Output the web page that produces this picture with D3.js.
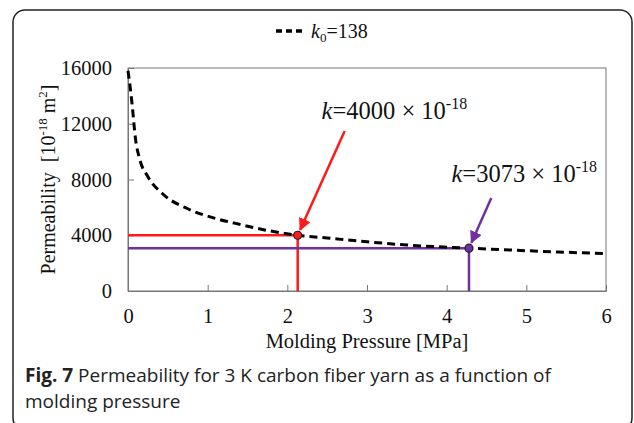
<!DOCTYPE html>
<html>
<head>
<meta charset="utf-8">
<script src="https://cdn.jsdelivr.net/npm/d3@7"></script>
<style>
  body { margin: 0; background: #fff; }
  svg { display: block; }
  .serif { font-family: "Liberation Serif", "Times New Roman", serif; fill: #111; }
  .caption { font-family: "Open Sans", "Noto Sans", sans-serif; fill: #222; font-size: 19px; }
</style>
</head>
<body>
<svg id="chart"></svg>
<script>
// values
const pressure = [0, 0.03, 0.055, 0.09, 0.15, 0.25, 0.45, 0.75, 1.1, 1.35, 1.7, 2.13, 2.5, 3.0, 3.5, 4.28, 4.8, 5.4, 6.0];
const permeability = [15800, 14500, 13200, 11100, 9400, 8200, 6900, 5900, 5200, 4850, 4400, 4000, 3800, 3530, 3300, 3073, 2940, 2800, 2680];
const xTicks = [0, 1, 2, 3, 4, 5, 6];
const yTicks = [0, 4000, 8000, 12000, 16000];
const markers = [
  { p: 2.13, k: 4000, color: '#ff1a1a', label: '4000', tail: [2.72, 11480], text: [2.43, 12350] },
  { p: 4.28, k: 3073, color: '#7030a0', label: '3073', tail: [4.56, 6670], text: [4.06, 7800] }
];

const width = 634, height = 423;
const margin = { top: 68, right: 28, bottom: 132, left: 128 };
const chartWidth = width - margin.left - margin.right;
const chartHeight = height - margin.top - margin.bottom;

const svg = d3.select('#chart').attr('width', width).attr('height', height);

// outer frame
svg.append('rect')
  .attr('x', 13).attr('y', 10)
  .attr('width', 619).attr('height', 420)
  .attr('rx', 12)
  .attr('fill', 'none')
  .attr('stroke', '#222')
  .attr('stroke-width', 1.5);

const g = svg.append('g').attr('transform', `translate(${margin.left},${margin.top})`);

const x = d3.scaleLinear().domain([0, 6]).range([0, chartWidth]);
const y = d3.scaleLinear().domain([0, 16000]).range([chartHeight, 0]);

// plot box
g.append('rect')
  .attr('width', chartWidth).attr('height', chartHeight)
  .attr('fill', 'none').attr('stroke', '#777').attr('stroke-width', 1);

// x axis (ticks pointing inward)
const xAxis = g.append('g')
  .attr('transform', `translate(0,${chartHeight})`)
  .call(d3.axisBottom(x).tickValues(xTicks).tickSizeInner(-6).tickSizeOuter(0).tickPadding(17).tickFormat(d3.format('d')));
xAxis.select('.domain').attr('stroke', '#777');
xAxis.selectAll('.tick line').attr('stroke', '#777');
xAxis.selectAll('text').attr('class', 'serif').style('font-size', '20.5px');

// y axis
const yAxis = g.append('g')
  .call(d3.axisLeft(y).tickValues(yTicks).tickSizeInner(-6).tickSizeOuter(0).tickPadding(16).tickFormat(d3.format('d')));
yAxis.select('.domain').attr('stroke', '#777');
yAxis.selectAll('.tick line').attr('stroke', '#777');
yAxis.selectAll('text').attr('class', 'serif').style('font-size', '20.5px');

// axis titles
g.append('text')
  .attr('class', 'serif')
  .attr('x', chartWidth / 2).attr('y', chartHeight + 57)
  .attr('text-anchor', 'middle')
  .style('font-size', '20.5px')
  .text('Molding Pressure [MPa]');

const yTitle = g.append('text')
  .attr('class', 'serif')
  .attr('transform', `translate(-73,${chartHeight / 2}) rotate(-90)`)
  .attr('text-anchor', 'middle')
  .style('font-size', '20px');
yTitle.append('tspan').text('Permeability\u00a0\u00a0[10');
yTitle.append('tspan').attr('dy', -8).style('font-size', '13px').text('-18');
yTitle.append('tspan').attr('dy', 8).text(' m');
yTitle.append('tspan').attr('dy', -8).style('font-size', '13px').text('2');
yTitle.append('tspan').attr('dy', 8).text(']');

// reference lines
markers.forEach(m => {
  g.append('path')
    .attr('d', `M${x(0)},${y(m.k)}H${x(m.p)}V${y(0)}`)
    .attr('fill', 'none')
    .attr('stroke', m.color)
    .attr('stroke-width', 2.5);
});

// curve
const line = d3.line()
  .x((d, i) => x(pressure[i]))
  .y(d => y(d))
  .curve(d3.curveMonotoneX);

g.append('path')
  .datum(permeability)
  .attr('d', line)
  .attr('fill', 'none')
  .attr('stroke', '#000')
  .attr('stroke-width', 3)
  .attr('stroke-dasharray', '8,5');

// arrowheads
const defs = svg.append('defs');
markers.forEach((m, i) => {
  defs.append('marker')
    .attr('id', `arrow${i}`)
    .attr('viewBox', '0 0 10 10')
    .attr('refX', 9).attr('refY', 5)
    .attr('markerWidth', 5).attr('markerHeight', 5)
    .attr('orient', 'auto')
    .attr('markerUnits', 'strokeWidth')
    .append('path')
    .attr('d', 'M0,0L10,5L0,10Z')
    .attr('fill', m.color);
});

markers.forEach((m, i) => {
  const x0 = x(m.tail[0]), y0 = y(m.tail[1]);
  const x1 = x(m.p), y1 = y(m.k);
  const dx = x1 - x0, dy = y1 - y0, len = Math.hypot(dx, dy);
  g.append('line')
    .attr('x1', x0).attr('y1', y0)
    .attr('x2', x1 - dx / len * 6).attr('y2', y1 - dy / len * 6)
    .attr('stroke', m.color)
    .attr('stroke-width', 2.5)
    .attr('marker-end', `url(#arrow${i})`);

  g.append('circle')
    .attr('cx', x1).attr('cy', y1).attr('r', 4)
    .attr('fill', m.color).attr('stroke', '#222').attr('stroke-width', 1.2);

  const t = g.append('text')
    .attr('class', 'serif')
    .attr('x', x(m.text[0])).attr('y', y(m.text[1]))
    .style('font-size', '24.5px');
  t.append('tspan').style('font-style', 'italic').text('k');
  t.append('tspan').text(`=${m.label} \u00d7 10`);
  t.append('tspan').attr('dy', -10).style('font-size', '16px').text('-18');
});

// legend
svg.append('line')
  .attr('x1', 276).attr('x2', 302).attr('y1', 31).attr('y2', 31)
  .attr('stroke', '#000').attr('stroke-width', 3.5).attr('stroke-dasharray', '6,4');
const leg = svg.append('text').attr('class', 'serif').attr('x', 311).attr('y', 38).style('font-size', '20px');
leg.append('tspan').style('font-style', 'italic').text('k');
leg.append('tspan').attr('dy', 4).style('font-size', '13px').text('0');
leg.append('tspan').attr('dy', -4).text('=138');

// caption
const cap1 = svg.append('text').attr('class', 'caption').attr('x', 25).attr('y', 382);
cap1.append('tspan').style('font-weight', 'bold').text('Fig. 7');
cap1.append('tspan').text(' Permeability for 3 K carbon fiber yarn as a function of');
svg.append('text').attr('class', 'caption').attr('x', 25).attr('y', 408).text('molding pressure');
</script>
</body>
</html>
